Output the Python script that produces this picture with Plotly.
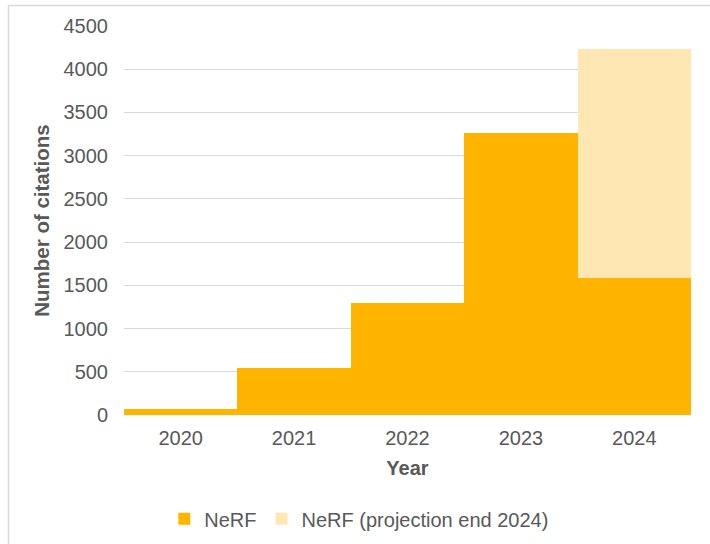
import plotly.graph_objects as go

years = ["2020", "2021", "2022", "2023", "2024"]
nerf = [65, 545, 1300, 3265, 1590]
projection = [0, 0, 0, 0, 2645]
y_ticks = [0, 500, 1000, 1500, 2000, 2500, 3000, 3500, 4000, 4500]

FONT = "Liberation Sans, Arial, sans-serif"
GREY = "#595959"

fig = go.Figure()
fig.add_trace(go.Bar(x=years, y=nerf, name="NeRF",
                     marker=dict(color="#FFB400", line=dict(width=0))))
fig.add_trace(go.Bar(x=years, y=projection, name="NeRF (projection end 2024)",
                     marker=dict(color="#FFE7B4", line=dict(width=0))))

fig.update_layout(
    width=710, height=544,
    barmode="stack", bargap=0,
    plot_bgcolor="white", paper_bgcolor="white",
    margin=dict(l=124, r=19, t=26, b=129, autoexpand=False),
    font=dict(family=FONT, size=20, color=GREY),
    showlegend=True,
    legend=dict(orientation="h", x=0.415, xanchor="center", y=-0.267, yanchor="middle",
                font=dict(size=20, color=GREY), itemwidth=30, traceorder="normal"),
    xaxis=dict(title=dict(text="<b>Year</b>", font=dict(size=20, color=GREY), standoff=12),
               showgrid=False, showline=False, ticks="", ticklabelstandoff=9),
    yaxis=dict(title=dict(text="<b>Number of citations</b>", font=dict(size=20.5, color=GREY), standoff=8),
               range=[0, 4500], tickvals=y_ticks, showgrid=True, gridcolor="#D9D9D9",
               gridwidth=1, zeroline=False, showline=False, ticks="", ticklabelstandoff=15),
    shapes=[
        dict(type="line", xref="paper", yref="paper", x0=(8.5-124)/567, x1=(710-124)/567,
             y0=(415-5.5)/389, y1=(415-5.5)/389, line=dict(color="#D9D9D9", width=1.5)),
        dict(type="line", xref="paper", yref="paper", x0=(8.5-124)/567, x1=(8.5-124)/567,
             y0=(415-5.5)/389, y1=(415-544)/389, line=dict(color="#D9D9D9", width=1.5)),
    ],
)

fig.write_html("out.html")
